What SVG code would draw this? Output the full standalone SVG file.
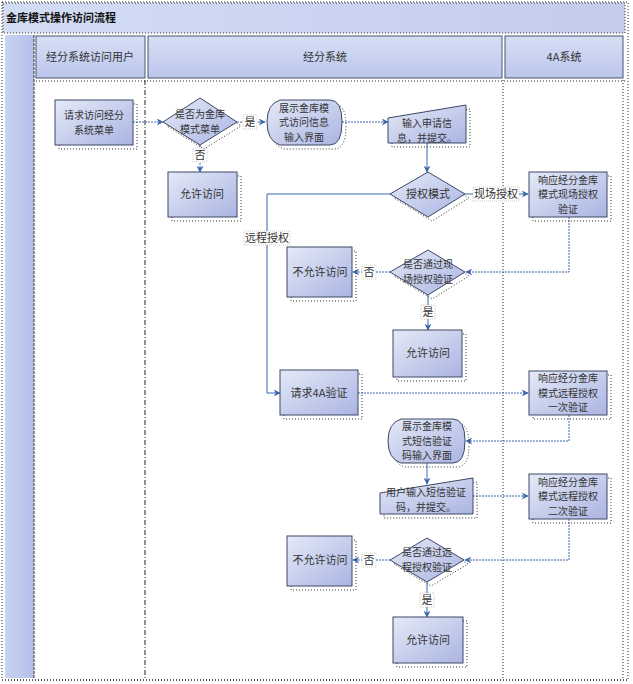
<svg xmlns="http://www.w3.org/2000/svg" width="633" height="684" viewBox="0 0 633 684">
<defs>
<linearGradient id="gNode" x1="0" y1="0" x2="1" y2="1">
<stop offset="0" stop-color="#e4eaf7"/>
<stop offset="1" stop-color="#aab4e2"/>
</linearGradient>
<linearGradient id="gHead" x1="0" y1="0" x2="0" y2="1">
<stop offset="0" stop-color="#d6def4"/>
<stop offset="1" stop-color="#bcc6ec"/>
</linearGradient>
<linearGradient id="gTitle" x1="0" y1="0" x2="1" y2="0">
<stop offset="0" stop-color="#d2ddf4"/>
<stop offset="1" stop-color="#c4ccee"/>
</linearGradient>
<linearGradient id="gBand" x1="0" y1="0" x2="1" y2="0">
<stop offset="0" stop-color="#c6d4f0"/>
<stop offset="1" stop-color="#b4bfea"/>
</linearGradient>
<marker id="arr" viewBox="0 0 10 10" refX="9" refY="5" markerWidth="7" markerHeight="7" orient="auto-start-reverse" markerUnits="userSpaceOnUse">
<path d="M0,0 L10,5 L0,10 L3,5 Z" fill="#3a66b0"/>
</marker>
</defs>
<style>
text{font-family:"Noto Sans CJK SC","Liberation Sans",sans-serif;font-size:11px;fill:#333;text-anchor:middle}
.m{font-size:10px}
.title{font-size:11px;font-weight:bold;fill:#111;text-anchor:start}
.hd{fill:url(#gHead);stroke:#4a5470;stroke-width:1}
.node{fill:url(#gNode);stroke:#3e4866;stroke-width:1}
.shd{fill:none;stroke:#333;stroke-width:1;stroke-dasharray:1 2}
.c{fill:none;stroke:#3a66b0;stroke-width:1;stroke-dasharray:2 1;marker-end:url(#arr)}
.cs{fill:none;stroke:#3a66b0;stroke-width:1;marker-end:url(#arr)}
.lbl{fill:#fff;stroke:#aaa;stroke-width:0.6;stroke-dasharray:1 1}
.dot{fill:none;stroke:#222;stroke-width:1;stroke-dasharray:1 2}
</style>

<!-- frame -->
<g id="frame">
<rect x="3" y="3" width="622" height="30" fill="url(#gTitle)" stroke="#333" stroke-dasharray="1 2"/>
<text class="title" x="6" y="22">金库模式操作访问流程</text>
<rect x="5" y="35" width="29" height="643" fill="url(#gBand)"/>
<line x1="34" y1="35" x2="34" y2="678" stroke="#333" stroke-dasharray="3 1"/>
<rect x="2" y="2" width="626" height="678" class="dot"/>
</g>

<!-- lanes -->
<g id="lane-user">
<rect class="hd" x="36" y="36" width="109" height="42"/>
<text x="90" y="61">经分系统访问用户</text>
</g>
<g id="lane-system">
<rect class="hd" x="148" y="36" width="354" height="42"/>
<text x="325" y="61">经分系统</text>
</g>
<g id="lane-4a">
<rect class="hd" x="505" y="36" width="118" height="42"/>
<text x="564" y="61">4A系统</text>
</g>
<g id="lane-lines">
<line x1="36" y1="81" x2="625" y2="81" class="dot"/>
<line x1="145" y1="80" x2="145" y2="678" stroke="#222" stroke-dasharray="5 2 1 2"/>
<line x1="503" y1="80" x2="503" y2="678" class="dot"/>
<line x1="623" y1="80" x2="623" y2="678" class="dot"/>
<line x1="2" y1="680" x2="628" y2="680" class="dot"/>
</g>

<!-- connectors -->
<g id="connectors">
<path class="c" d="M133,122 H163"/>
<path class="c" d="M237,122 H265"/>
<path class="c" d="M200,145 V172"/>
<path class="c" d="M342,122 H388"/>
<path class="cs" d="M427,143 V172"/>
<path class="cs" d="M465,194 H528"/>
<path class="cs" d="M390,194 H267 V393 H280"/>
<path class="c" d="M569,217 V272 H466"/>
<path class="c" d="M390,272 H353"/>
<path class="cs" d="M428,295 V330"/>
<path class="c" d="M358,393 H528"/>
<path class="c" d="M569,415 V441 H466"/>
<path class="cs" d="M427,463 V484"/>
<path class="c" d="M473,496 H528"/>
<path class="c" d="M569,519 V560 H465"/>
<path class="c" d="M390,560 H353"/>
<path class="cs" d="M427,582 V617"/>
<!-- labels -->
<rect class="lbl" x="243" y="115" width="14" height="14"/><text x="250" y="126">是</text>
<rect class="lbl" x="193" y="148" width="14" height="14"/><text x="200" y="159">否</text>
<rect class="lbl" x="473" y="187" width="46" height="14"/><text x="496" y="198">现场授权</text>
<rect class="lbl" x="244" y="231" width="46" height="14"/><text x="267" y="242">远程授权</text>
<rect class="lbl" x="362" y="265" width="14" height="14"/><text x="369" y="276">否</text>
<rect class="lbl" x="421" y="305" width="14" height="14"/><text x="428" y="316">是</text>
<rect class="lbl" x="362" y="553" width="14" height="14"/><text x="369" y="564">否</text>
<rect class="lbl" x="420" y="593" width="14" height="14"/><text x="427" y="604">是</text>
</g>

<!-- nodes -->
<g id="n-request-menu">
<rect class="shd" x="59" y="104" width="78" height="45"/>
<rect class="node" x="55" y="100" width="78" height="45"/>
<text class="m" x="94" y="119">请求访问经分</text><text class="m" x="94" y="133.5">系统菜单</text>
</g>
<g id="n-is-vault-menu">
<polygon class="shd" points="204,102 241,126 204,149 167,126"/>
<polygon class="node" points="200,98 237,122 200,145 163,122"/>
<text class="m" x="200" y="118">是否为金库</text><text class="m" x="200" y="132.5">模式菜单</text>
</g>
<g id="n-allow-1">
<rect class="shd" x="172" y="176" width="69" height="45"/>
<rect class="node" x="168" y="172" width="69" height="45"/>
<text x="202" y="198">允许访问</text>
</g>
<g id="n-show-info">
<path class="shd" d="M284,104 H334 Q346,104 346,126 Q346,149 334,149 H284 Q271,145 271,126 Q271,108 284,104 Z"/>
<path class="node" d="M280,100 H330 Q342,100 342,122 Q342,145 330,145 H280 Q267,141 267,122 Q267,104 280,100 Z"/>
<text class="m" x="304" y="111.5">展示金库模</text><text class="m" x="304" y="126">式访问信息</text><text class="m" x="304" y="140.5">输入界面</text>
</g>
<g id="n-input-apply">
<polygon class="shd" points="392,122 470,109 470,147 392,147"/>
<polygon class="node" points="388,118 466,105 466,143 388,143"/>
<text class="m" x="427" y="127">输入申请信</text><text class="m" x="427" y="141.5">息，并提交。</text>
</g>
<g id="n-auth-mode">
<polygon class="shd" points="432,176 469,198 432,221 394,198"/>
<polygon class="node" points="428,172 465,194 428,217 390,194"/>
<text x="428" y="198">授权模式</text>
</g>
<g id="n-onsite-verify">
<rect class="shd" x="533" y="176" width="78" height="45"/>
<rect class="node" x="529" y="172" width="78" height="45"/>
<text class="m" x="568" y="183.5">响应经分金库</text><text class="m" x="568" y="198">模式现场授权</text><text class="m" x="568" y="212.5">验证</text>
</g>
<g id="n-deny-1">
<rect class="shd" x="291" y="251" width="65" height="50"/>
<rect class="node" x="287" y="247" width="65" height="50"/>
<text x="320" y="276">不允许访问</text>
</g>
<g id="n-pass-onsite">
<polygon class="shd" points="432,254 469,276 432,299 394,276"/>
<polygon class="node" points="428,250 465,272 428,295 390,272"/>
<text class="m" x="428" y="268">是否通过现</text><text class="m" x="428" y="282.5">场授权验证</text>
</g>
<g id="n-allow-2">
<rect class="shd" x="397" y="334" width="69" height="47"/>
<rect class="node" x="393" y="330" width="69" height="47"/>
<text x="428" y="357">允许访问</text>
</g>
<g id="n-request-4a">
<rect class="shd" x="284" y="374" width="78" height="45"/>
<rect class="node" x="280" y="370" width="78" height="45"/>
<text x="319" y="397">请求4A验证</text>
</g>
<g id="n-remote-1">
<rect class="shd" x="533" y="375" width="78" height="44"/>
<rect class="node" x="529" y="371" width="78" height="44"/>
<text class="m" x="568" y="382">响应经分金库</text><text class="m" x="568" y="396.5">模式远程授权</text><text class="m" x="568" y="411">一次验证</text>
</g>
<g id="n-show-sms">
<path class="shd" d="M405,423 H457 Q469,423 469,445 Q469,467 457,467 H405 Q392,463 392,445 Q392,427 405,423 Z"/>
<path class="node" d="M401,419 H453 Q465,419 465,441 Q465,463 453,463 H401 Q388,459 388,441 Q388,423 401,419 Z"/>
<text class="m" x="427" y="430">展示金库模</text><text class="m" x="427" y="444.5">式短信验证</text><text class="m" x="427" y="459">码输入界面</text>
</g>
<g id="n-input-sms">
<polygon class="shd" points="384,497 477,482 477,518 384,518"/>
<polygon class="node" points="380,493 473,478 473,514 380,514"/>
<text class="m" x="426" y="496">用户输入短信验证</text><text class="m" x="426" y="510.5">码，并提交。</text>
</g>
<g id="n-remote-2">
<rect class="shd" x="533" y="478" width="78" height="45"/>
<rect class="node" x="529" y="474" width="78" height="45"/>
<text class="m" x="568" y="485.5">响应经分金库</text><text class="m" x="568" y="500">模式远程授权</text><text class="m" x="568" y="514.5">二次验证</text>
</g>
<g id="n-deny-2">
<rect class="shd" x="291" y="540" width="65" height="50"/>
<rect class="node" x="287" y="536" width="65" height="50"/>
<text x="320" y="564">不允许访问</text>
</g>
<g id="n-pass-remote">
<polygon class="shd" points="431,542 468,564 431,586 394,564"/>
<polygon class="node" points="427,538 464,560 427,582 390,560"/>
<text class="m" x="427" y="556">是否通过远</text><text class="m" x="427" y="570.5">程授权验证</text>
</g>
<g id="n-allow-3">
<rect class="shd" x="397" y="621" width="70" height="46"/>
<rect class="node" x="393" y="617" width="70" height="46"/>
<text x="428" y="644">允许访问</text>
</g>
</svg>
